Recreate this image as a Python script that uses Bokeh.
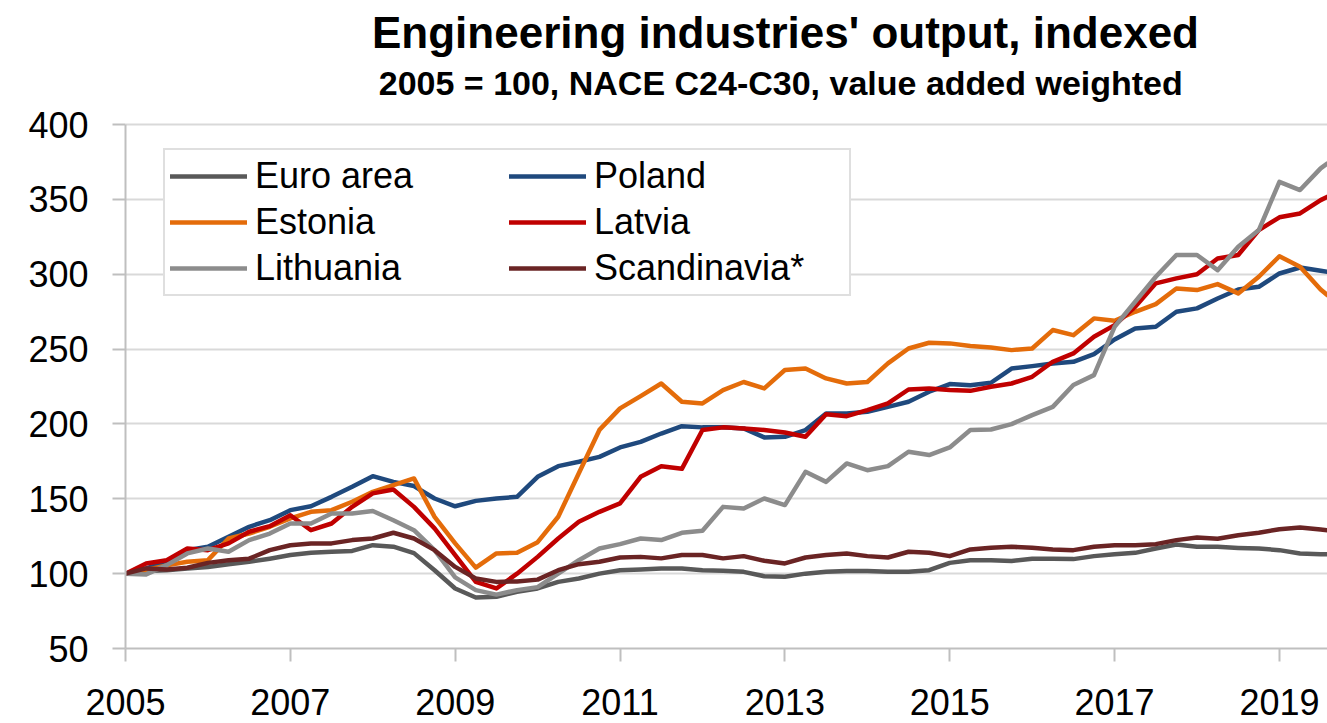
from bokeh.plotting import figure
from bokeh.models import Legend, LegendItem, FixedTicker, Range1d
from bokeh.core.properties import value
from bokeh.embed import file_html
from bokeh.resources import INLINE

# ---- data (index, 2005 = 100), sampled every quarter Jan 2005 .. Jul 2019, plus Aug 2019
months = list(range(0, 175, 3)) + [175]          # months since Jan 2005
years = [2005 + m / 12 for m in months]

euro_area = [100, 101.7, 102.3, 103.5, 104.5, 106.3, 107.9, 110, 112.4, 113.9, 114.6, 115.2,
             119, 118, 113.7, 102.3, 90.1, 84.1, 84.5, 87.9, 90.1, 94.5, 96.8, 100,
             102.3, 102.8, 103.5, 103.5, 102.3, 101.9, 101.2, 98.3, 97.9, 100, 101.2, 101.7,
             101.7, 101.2, 101.2, 102.3, 107.2, 109, 109, 108.4, 110, 110, 109.7, 111.7,
             113, 113.9, 116.8, 119.5, 117.9, 117.9, 117.2, 116.8, 115.7, 113.5, 113, 113]
poland = [100, 103.5, 107.9, 115.7, 117.9, 124.6, 131.3, 135.7, 142.4, 145, 151.3, 158,
          165.1, 161.3, 158.5, 150.2, 145, 148.6, 150.2, 151.3, 164.7, 171.8, 174.7, 178,
          184.3, 188, 193.6, 198.5, 197.7, 197.7, 197, 191, 191.4, 195.9, 207, 207,
          208.1, 211.4, 214.8, 221.5, 226.6, 225.9, 227.5, 237, 238.6, 240.4, 241.5, 246.6,
          256.4, 263.8, 264.9, 274.9, 277.2, 283.8, 289.8, 291.6, 300.5, 304.5, 302.3, 301.6]
estonia = [100, 102.5, 105.5, 108, 109, 123.5, 126.8, 131.3, 136.9, 141.3, 142.4, 148,
           154.6, 159.1, 163.6, 137.9, 120.2, 104, 113.5, 113.9, 121, 138, 167, 196,
           210.4, 218.6, 227, 214.8, 213.7, 222.6, 228, 223.7, 236, 237, 230.4, 227,
           228, 240.4, 250.4, 254.2, 253.8, 252, 251.1, 249.3, 250.4, 262.7, 259.3, 270.5,
           268.9, 274.9, 280, 290.5, 289.4, 293.4, 287.2, 298.3, 312, 305, 289.8, 286]
latvia = [100, 106.8, 109, 116.8, 115.7, 120.2, 128, 131.7, 139, 129, 133.5, 144.6,
          153.6, 156.2, 144.6, 130.2, 112.4, 94.5, 90.1, 100, 111.2, 123.5, 134.6, 141.3,
          146.9, 164.7, 171.8, 170, 195.9, 197.7, 197, 196, 194.3, 191.4, 206.5, 205.2,
          209.2, 213.7, 223, 223.7, 222.6, 222.1, 224.8, 227, 231.5, 241.5, 247.1, 258.2,
          266, 278.2, 293.9, 297.2, 300, 310.5, 312.8, 329.5, 338, 340.6, 349.5, 351.7]
lithuania = [100, 99.5, 105.7, 113.5, 116.8, 114.6, 122.4, 126.8, 133.5, 133.5, 140.2, 140.2,
             141.8, 135.7, 129, 115.7, 97.5, 89, 86, 89, 91, 100, 109, 116.8,
             119.7, 123.5, 122.4, 127.3, 128.6, 144.6, 143.5, 150.2, 145.8, 168, 161.3, 173.6,
             169.1, 171.8, 181.4, 179.2, 184.3, 195.9, 196.3, 199.9, 205.9, 211.4, 226, 232.6,
             264.9, 281.6, 298.3, 312.8, 312.8, 302.7, 318.3, 329.5, 361.7, 356.2, 370.7, 374]
scandinavia = [100, 103.5, 102.8, 103.9, 107.2, 109, 110, 115.7, 119, 120.2, 120.2, 122.4,
               123.5, 127.3, 123.5, 115.7, 104.5, 96.8, 94.5, 94.8, 96, 102.3, 106.3, 107.9,
               110.8, 111.2, 110.2, 112.4, 112.4, 110.2, 111.7, 108.6, 106.8, 110.8, 112.4, 113.5,
               111.7, 110.8, 114.6, 113.9, 111.7, 116.2, 117.3, 117.9, 117.3, 116.2, 115.7, 117.9,
               119, 119, 119.7, 122.4, 124.2, 123.3, 125.7, 127.3, 129.7, 130.8, 129.5, 129]

series_names = ["Euro area", "Poland", "Estonia", "Latvia", "Lithuania", "Scandinavia*"]
series_values = [euro_area, poland, estonia, latvia, lithuania, scandinavia]
series_colors = ["#595959", "#1F497D", "#E46C0A", "#C00000", "#8C8C8C", "#6A2424"]

x_tick_years = [2005, 2007, 2009, 2011, 2013, 2015, 2017, 2019]
y_ticks = [50, 100, 150, 200, 250, 300, 350, 400]

title_text = "Engineering industries' output, indexed"
subtitle_text = "2005 = 100, NACE C24-C30,  value added weighted"

FONT = "Liberation Sans"

# ---- layout geometry (pixels)
W, H = 1327, 723
LEFT, BOTTOM = 125, 75                 # borders around the plotting area
AXIS_TOP_PX = 124                      # where the value 400 sits (from canvas top)
frame_h = H - BOTTOM                   # frame spans canvas top .. axis
y0, y1_axis = y_ticks[0], y_ticks[-1]
px_per_unit = (frame_h - AXIS_TOP_PX) / (y1_axis - y0)
y_top = y1_axis + AXIS_TOP_PX / px_per_unit   # room for the titles inside the frame
x0, x1 = 2005, 2005 + months[-1] / 12

def y_at(px_from_top):
    return y0 + (frame_h - px_from_top) / px_per_unit

def x_at(px_from_left):
    return x0 + (px_from_left - LEFT) / (W - LEFT) * (x1 - x0)

p = figure(width=W, height=H, output_backend="svg", toolbar_location=None,
           x_range=Range1d(x0, x1), y_range=Range1d(y0, y_top),
           min_border_left=LEFT, min_border_right=0, min_border_bottom=BOTTOM, min_border_top=0)

p.outline_line_color = None
p.background_fill_color = "white"
p.border_fill_color = "white"

p.xgrid.visible = False
p.ygrid.grid_line_color = "#D9D9D9"
p.ygrid.grid_line_width = 2

p.xaxis.ticker = FixedTicker(ticks=x_tick_years)
p.yaxis.ticker = FixedTicker(ticks=y_ticks)
p.yaxis.bounds = (y0, y1_axis)
for ax in (p.xaxis[0], p.yaxis[0]):
    ax.axis_line_color = "#BFBFBF"
    ax.axis_line_width = 2
    ax.major_tick_line_color = "#BFBFBF"
    ax.major_tick_line_width = 2
    ax.major_tick_out = 13
    ax.major_tick_in = 0
    ax.minor_tick_out = 0
    ax.minor_tick_in = 0
    ax.major_label_text_font = FONT
    ax.major_label_text_font_size = "36px"
    ax.major_label_text_color = "#000000"
p.yaxis.major_label_standoff = 24
p.xaxis.major_label_standoff = 27

# titles
p.text(x=[x_at(785)], y=[y_at(32)], text=[title_text], text_font=value(FONT),
       text_font_size=value("44px"), text_font_style="bold", text_color="#000000",
       text_align="center", text_baseline="alphabetic")
p.text(x=[x_at(785)], y=[y_at(82)], text=[subtitle_text], text_font=value(FONT),
       text_font_size=value("34px"), text_font_style="bold", text_color="#000000",
       text_align="center", text_baseline="alphabetic")

renderers = []
for name, vals, col in zip(series_names, series_values, series_colors):
    r = p.line(years, vals, line_color=col, line_width=4.5, line_join="round", line_cap="round")
    renderers.append(r)

items = [LegendItem(label=n, renderers=[r]) for n, r in zip(series_names, renderers)]
legend = Legend(items=items, location=(38, 352), orientation="horizontal", ncols=2,
                label_text_font=FONT, label_text_font_size="36px", label_text_color="#000000",
                glyph_width=77, glyph_height=38, label_height=38, label_standoff=8,
                label_width=250, spacing=4, padding=5, margin=0,
                border_line_color="#BFBFBF", border_line_width=2,
                background_fill_color="white", background_fill_alpha=1.0)
p.add_layout(legend, "center")

open("out.html", "w").write(file_html(p, INLINE))
